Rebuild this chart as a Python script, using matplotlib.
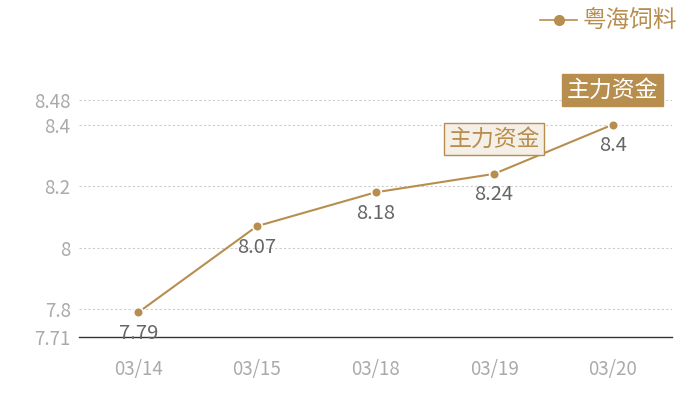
import matplotlib
matplotlib.use('Agg')
import matplotlib.pyplot as plt
from matplotlib.lines import Line2D

plt.rcParams['font.family'] = ['Noto Sans CJK SC', 'DejaVu Sans']

dates = ['03/14', '03/15', '03/18', '03/19', '03/20']
prices = [7.79, 8.07, 8.18, 8.24, 8.4]
price_labels = ['7.79', '8.07', '8.18', '8.24', '8.4']
y_ticks = [7.71, 7.8, 8, 8.2, 8.4, 8.48]
y_tick_labels = ['7.71', '7.8', '8', '8.2', '8.4', '8.48']
series_name = '粤海饲料'
flag_text = '主力资金'

gold = '#B88E4F'

fig = plt.figure(figsize=(7, 4), dpi=100)
ax = fig.add_axes([79 / 700, 1 - 337 / 400, (672 - 79) / 700, (337 - 100) / 400])

x = list(range(len(dates)))
ax.plot(x, prices, color=gold, linewidth=1.5, marker='o', markersize=7,
        markerfacecolor=gold, markeredgecolor='white', markeredgewidth=1.2, zorder=3)

# 数值标签
for xi, p, lab in zip(x, prices, price_labels):
    ax.annotate(lab, (xi, p), xytext=(0, -15), textcoords='offset points',
                ha='center', va='center', fontsize=14.5, color='#666666', zorder=4)

ax.set_xlim(-0.5, len(dates) - 0.5)
ax.set_ylim(7.71, 8.48)
ax.set_xticks(x)
ax.set_xticklabels(dates)
ax.set_yticks(y_ticks)
ax.set_yticklabels(y_tick_labels)
ax.tick_params(axis='both', length=0, labelsize=13.5, colors='#aaaaaa')
ax.tick_params(axis='x', pad=16)
ax.tick_params(axis='y', pad=6)

for t in y_ticks[1:]:
    ax.axhline(t, color='#cccccc', linewidth=0.8, linestyle=(0, (2, 2)), zorder=1)

for s in ['top', 'right', 'left']:
    ax.spines[s].set_visible(False)
ax.spines['bottom'].set_color('#333333')
ax.spines['bottom'].set_linewidth(1)

# 主力资金标记
ax.annotate(flag_text, (4, prices[4]), xytext=(0, 25), textcoords='offset points',
            ha='center', va='center', fontsize=16.5, color='white',
            bbox=dict(boxstyle='square,pad=0.2', facecolor=gold, edgecolor=gold))
ax.annotate(flag_text, (3, prices[3]), xytext=(0, 25), textcoords='offset points',
            ha='center', va='center', fontsize=16.5, color=gold,
            bbox=dict(boxstyle='square,pad=0.2', facecolor='#f4efe7', edgecolor=gold, linewidth=1))

handle = Line2D([0], [0], color=gold, linewidth=1.2, marker='o', markersize=7,
                markerfacecolor=gold, markeredgecolor=gold)
fig.legend([handle], [series_name], loc='upper right', bbox_to_anchor=(0.997, 1.028),
           frameon=False, fontsize=17, labelcolor=gold, handlelength=1.6,
           handletextpad=0.2)

fig.savefig('out.png', dpi=100)
